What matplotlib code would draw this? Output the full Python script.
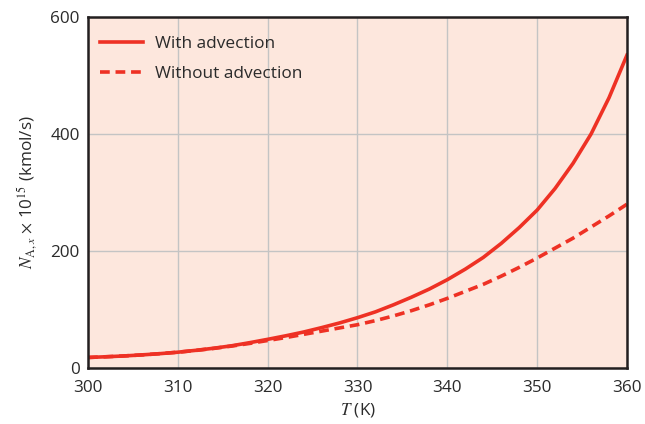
import matplotlib
matplotlib.use("Agg")
import matplotlib.pyplot as plt

T = [300, 302, 304, 306, 308, 310, 312, 314, 316, 318, 320, 322, 324, 326, 328, 330,
     332, 334, 336, 338, 340, 342, 344, 346, 348, 350, 352, 354, 356, 358, 360]
with_adv = [18, 19.2, 20.6, 22.4, 24.5, 27, 30.2, 33.8, 38, 43.3, 49, 55, 61.5, 69, 77, 86,
            96, 108, 121, 135, 151, 169, 189, 213, 240, 270, 307, 350, 400, 462, 535]
without_adv = [18, 19.2, 20.6, 22.4, 24.5, 27, 30, 33.5, 37.5, 42, 47, 52, 57.5, 63, 68.5, 74,
               81, 89, 98, 108, 119, 131, 143, 157, 172, 188, 205, 222, 241, 260, 280]
xticks = [300, 310, 320, 330, 340, 350, 360]
yticks = [0, 200, 400, 600]

plt.rcParams['font.family'] = ['Open Sans', 'DejaVu Sans']
plt.rcParams['mathtext.fontset'] = 'stix'

red = '#EE3124'
txt = '#2B2B2B'
fig = plt.figure(figsize=(6.45, 4.24), dpi=100)
ax = fig.add_axes([88/645, 56/424, (627-88)/645, (368-17)/424])
ax.set_facecolor('#FDE7DD')
ax.plot(T, with_adv, color=red, lw=2.6, label='With advection')
ax.plot(T, without_adv, color=red, lw=2.6, ls=(0, (2.7, 1.6)), label='Without advection')
ax.set_xlim(300, 360)
ax.set_ylim(0, 600)
ax.set_xticks(xticks)
ax.set_yticks(yticks)
ax.grid(True, color='#C4C4C4', lw=1.0)
ax.set_axisbelow(True)
ax.tick_params(length=0, labelsize=12.3, colors=txt)
ax.tick_params(axis='x', pad=9)
ax.tick_params(axis='y', pad=6)
for s in ax.spines.values():
    s.set_linewidth(1.8)
    s.set_color('#231F20')
ax.set_xlabel(r'$T$ (K)', fontsize=12.3, color=txt, labelpad=3)
ax.set_ylabel(r'$N_{\mathrm{A},x}$ $\times$ 10$^{15}$ (kmol/s)', fontsize=12.3, color=txt, labelpad=8)
leg = ax.legend(loc='upper left', bbox_to_anchor=(-0.009, 0.994), frameon=False, fontsize=12.4,
                handlelength=2.5, labelspacing=0.8, borderaxespad=0.6, handletextpad=0.7)
for t in leg.get_texts():
    t.set_color(txt)
fig.savefig('out.png', dpi=100)
